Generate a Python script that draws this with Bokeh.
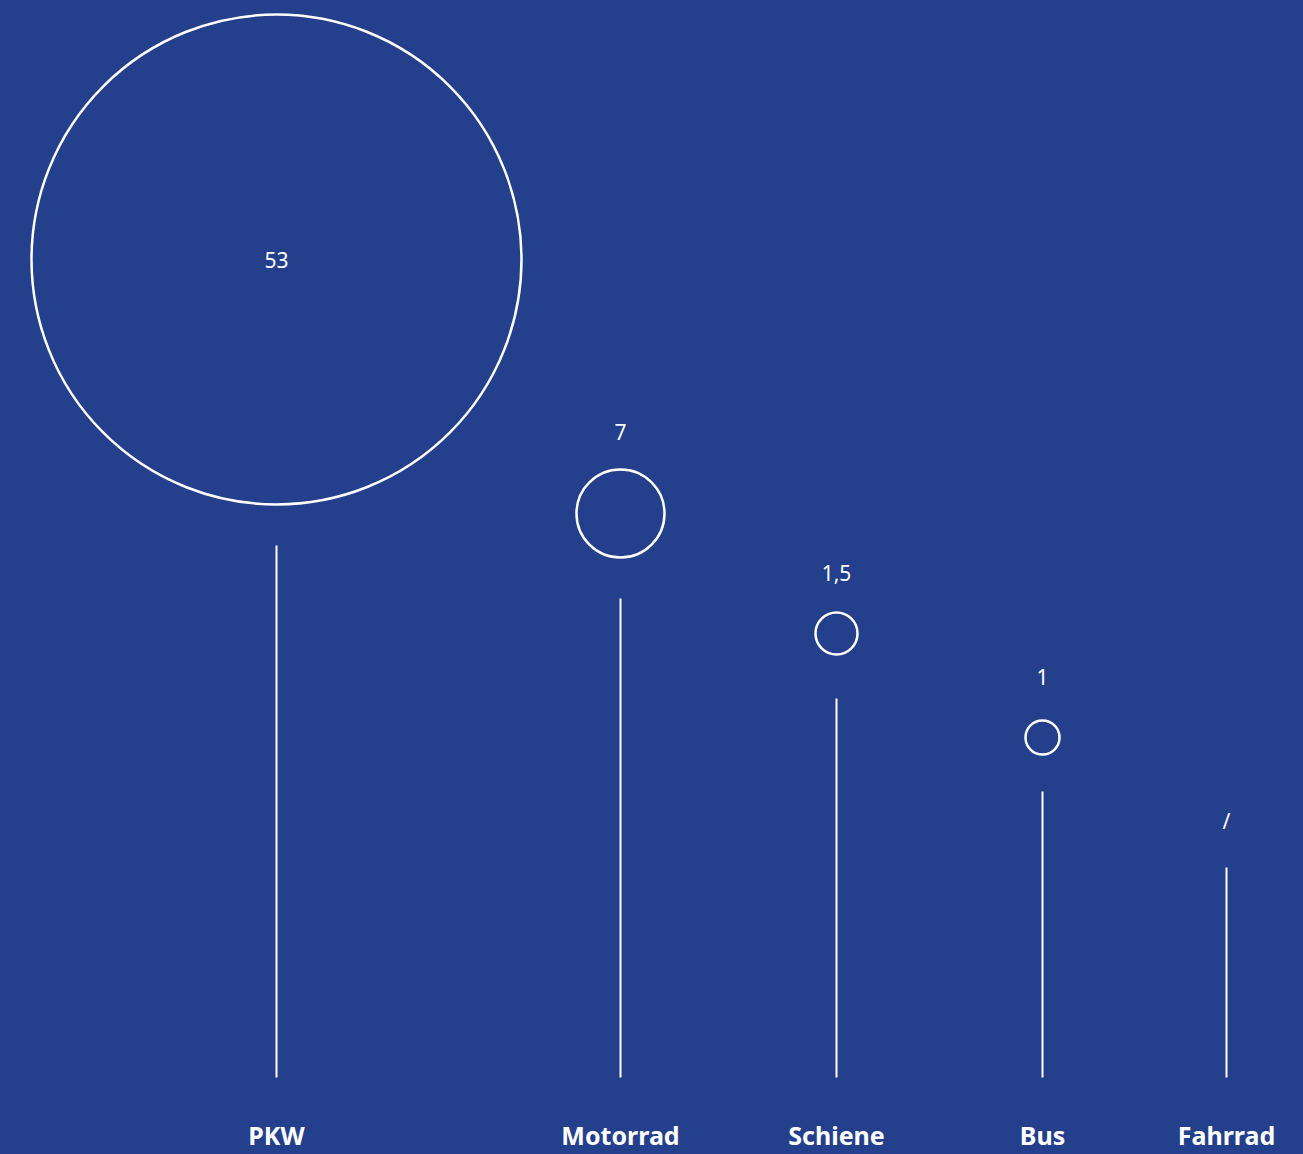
from bokeh.plotting import figure
from bokeh.models import Range1d
from bokeh.core.properties import value
from bokeh.embed import file_html
from bokeh.resources import INLINE

# ---- data ----
categories = ["PKW", "Motorrad", "Schiene", "Bus", "Fahrrad"]
values = [53, 7, 1.5, 1, None]
value_labels = ["53", "7", "1,5", "1", "/"]

# ---- layout (pixel units of the figure, y up) ----
W, H = 1303, 1154
BG = "#243f8b"
x_pos = [276, 620, 836, 1042, 1226]
stem_top = [609, 556, 456, 363, 287]
baseline = 77
circle_r = [245, 44, 21, 17, 0]
circle_gap = [41, 41, 44, 37, 0]
label_gap = [0, 38, 40, 44, 47]

p = figure(width=W, height=H, output_backend="svg", toolbar_location=None,
           x_range=Range1d(0, W), y_range=Range1d(0, H),
           min_border=0, background_fill_color=BG, border_fill_color=BG,
           outline_line_color=None)
p.axis.visible = False
p.grid.visible = False

# stems
p.segment(x0=x_pos, y0=[baseline] * 5, x1=x_pos, y1=stem_top,
          line_color="white", line_width=2)

# circles (only where a value exists)
cx, cy, cr, lx, ly, lt = [], [], [], [], [], []
for i, v in enumerate(values):
    if v is not None:
        y = stem_top[i] + circle_gap[i] + circle_r[i]
        cx.append(x_pos[i]); cy.append(y); cr.append(circle_r[i])
        if i == 0:
            lx.append(x_pos[i]); ly.append(y)
        else:
            lx.append(x_pos[i]); ly.append(y + circle_r[i] + label_gap[i])
    else:
        lx.append(x_pos[i]); ly.append(stem_top[i] + label_gap[i])
    lt.append(value_labels[i])

p.circle(x=cx, y=cy, radius=cr, fill_color=None, line_color="white", line_width=2.5)

p.text(x=lx, y=ly, text=lt, text_color="white", text_align="center",
       text_baseline="middle", text_font=value("Noto Sans"), text_font_size="21px")

p.text(x=x_pos, y=[20] * 5, text=categories, text_color="white", text_align="center",
       text_baseline="middle", text_font=value("Noto Sans"), text_font_size="25px",
       text_font_style="bold")

html = file_html(p, INLINE)
html = html.replace("</head>", "<style>html,body{background:%s;}</style></head>" % BG)
open("out.html", "w").write(html)
